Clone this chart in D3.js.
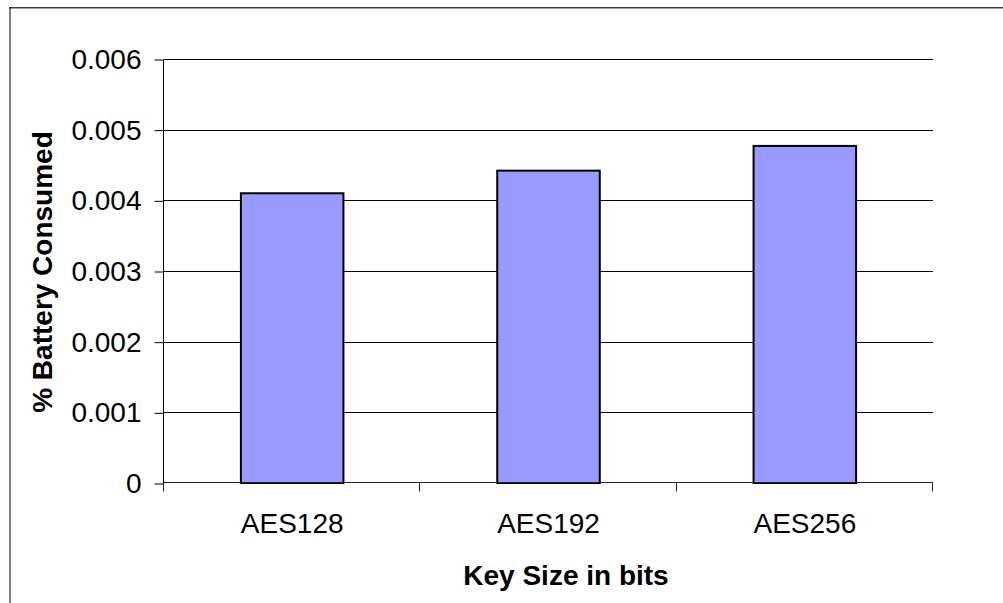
<!DOCTYPE html>
<html>
<head>
<meta charset="utf-8">
<script src="https://cdn.jsdelivr.net/npm/d3@7"></script>
<style>
  html, body { margin: 0; padding: 0; background: #fff; }
  svg { display: block; }
  text { font-family: "Liberation Sans", Arial, sans-serif; fill: #000; }
</style>
</head>
<body>
<svg id="chart" width="1003" height="603"></svg>
<script>
// Battery consumption per AES key size
const categories = ["AES128", "AES192", "AES256"];
const values = [0.0041, 0.00442, 0.00477];
const yTicks = [0, 0.001, 0.002, 0.003, 0.004, 0.005, 0.006];
const yTickLabels = ["0", "0.001", "0.002", "0.003", "0.004", "0.005", "0.006"];
const xTitle = "Key Size in bits";
const yTitle = "% Battery Consumed";

const svg = d3.select("#chart");
const W = 1003, H = 603;
const plot = { left: 164, right: 933, top: 59, bottom: 483 };

// chart frame (top and left edges visible)
svg.append("line").attr("x1", 9).attr("x2", W).attr("y1", 7.75).attr("y2", 7.75)
  .attr("stroke", "#404040").attr("stroke-width", 1.5);
svg.append("line").attr("x1", 10).attr("x2", 10).attr("y1", 7).attr("y2", H)
  .attr("stroke", "#000").attr("stroke-width", 1);

const x = d3.scaleBand().domain(categories)
  .range([plot.left, plot.right]).paddingInner(0.6).paddingOuter(0.3);
const y = d3.scaleLinear().domain([0, 0.006]).range([plot.bottom, plot.top]);
const crisp = v => Math.round(v) + 0.5;

// horizontal gridlines
svg.append("g").selectAll("line").data(yTicks.slice(1)).join("line")
  .attr("x1", plot.left).attr("x2", plot.right)
  .attr("y1", d => crisp(y(d))).attr("y2", d => crisp(y(d)))
  .attr("stroke", "#000").attr("stroke-width", 1);

// bars
svg.append("g").selectAll("rect").data(values).join("rect")
  .attr("x", (d, i) => x(categories[i]))
  .attr("y", d => y(d))
  .attr("width", x.bandwidth())
  .attr("height", d => y(0) - y(d))
  .attr("fill", "#9999FF")
  .attr("stroke", "#000")
  .attr("stroke-width", 2);

// y axis
const yAxis = d3.axisLeft(y).tickValues(yTicks)
  .tickFormat((d, i) => yTickLabels[i]).tickSize(9).tickPadding(13);
const gy = svg.append("g").attr("transform", `translate(${crisp(plot.left) - 1},0.5)`).call(yAxis);
gy.select(".domain").attr("d", `M0,${plot.top}V${plot.bottom}`).attr("stroke", "#000");
gy.selectAll(".tick line").attr("stroke", "#000");
gy.selectAll(".tick text").attr("font-size", 28).attr("fill", "#000")
  .attr("font-family", "'Liberation Sans', Arial, sans-serif");

// x axis: ticks at category boundaries
const bounds = d3.scaleLinear().domain([0, categories.length]).range([plot.left, plot.right]);
const gx = svg.append("g").attr("transform", `translate(0,${crisp(plot.bottom) - 1})`);
gx.append("line").attr("x1", plot.left).attr("x2", plot.right)
  .attr("stroke", "#222").attr("stroke-width", 1);
gx.selectAll("line.tk").data(d3.range(categories.length + 1)).join("line")
  .attr("class", "tk")
  .attr("x1", i => crisp(bounds(i)) - 1).attr("x2", i => crisp(bounds(i)) - 1)
  .attr("y1", 0).attr("y2", 9)
  .attr("stroke", "#222");
gx.selectAll("text").data(categories).join("text")
  .attr("x", d => x(d) + x.bandwidth() / 2)
  .attr("y", 50)
  .attr("text-anchor", "middle")
  .attr("font-size", 28)
  .text(d => d);

// axis titles
svg.append("text")
  .attr("x", 566).attr("y", 585)
  .attr("text-anchor", "middle")
  .attr("font-size", 28).attr("font-weight", "bold")
  .text(xTitle);

svg.append("text")
  .attr("transform", "translate(52,272) rotate(-90)")
  .attr("text-anchor", "middle")
  .attr("font-size", 28).attr("font-weight", "bold")
  .text(yTitle);
</script>
</body>
</html>
